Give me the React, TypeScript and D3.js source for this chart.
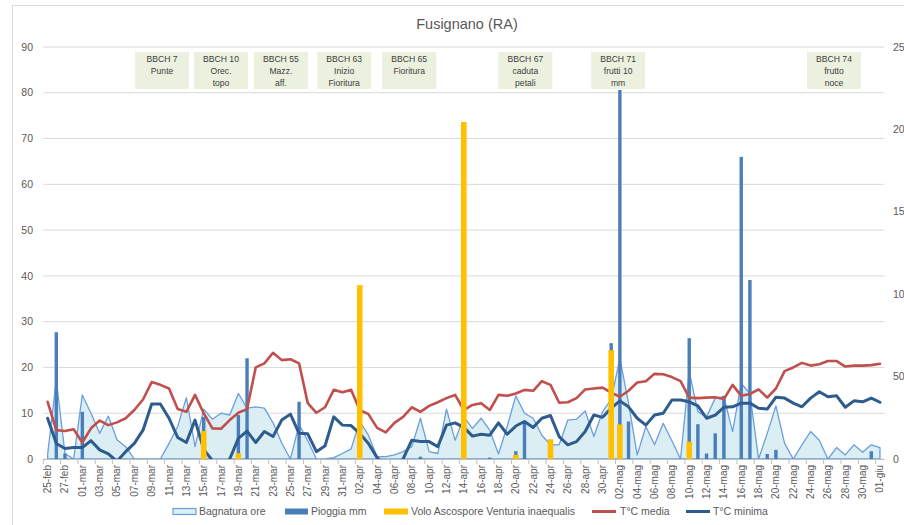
import React from "react";
import * as d3 from "d3";

// Daily categories: 25 Feb – 1 Jun
const days: Date[] = d3.timeDay.range(new Date(2015, 1, 25), new Date(2015, 5, 2));

const itLocale = d3.timeFormatLocale({
  dateTime: "%A %e %B %Y, %X",
  date: "%d/%m/%Y",
  time: "%H:%M:%S",
  periods: ["AM", "PM"],
  days: ["domenica", "lunedì", "martedì", "mercoledì", "giovedì", "venerdì", "sabato"],
  shortDays: ["dom", "lun", "mar", "mer", "gio", "ven", "sab"],
  months: ["gennaio", "febbraio", "marzo", "aprile", "maggio", "giugno", "luglio", "agosto", "settembre", "ottobre", "novembre", "dicembre"],
  shortMonths: ["gen", "feb", "mar", "apr", "mag", "giu", "lug", "ago", "set", "ott", "nov", "dic"],
});
const dayLabel = itLocale.format("%d-%b");

// Bagnatura (ore)
const bagnatura = [
  1, 17.3, 1.2, 0, 14.0, 10.0, 5.6, 9.4, 4.2, 2.7,
  0, 0, 0, 0, 3.4, 7.1, 13.4, 2.7, 10.9, 8.7,
  10.0, 9.6, 14.3, 11.1, 11.4, 11.1, 7.9, 3.5, 0, 7.5,
  4.0, 0, 0, 0.3, 1.2, 2.2, 8.2, 5.2, 0.5, 0.5,
  0.9, 1.6, 2.7, 8.9, 1.6, 1.2, 10.9, 4.1, 9.2, 6.7,
  8.9, 6.3, 1.1, 7.1, 13.8, 10.0, 8.9, 5.2, 3.1, 3.1,
  8.5, 8.7, 10.5, 4.9, 10.3, 13.0, 22.0, 12.2, 0.9, 7.1,
  3.1, 7.8, 4.0, 0, 19.1, 10.3, 9.2, 13.3, 13.6, 6.0,
  16.5, 14.3, 0, 5.6, 11.6, 3.4, 0, 3.1, 6.0, 4.1,
  0, 2.5, 0.9, 3.1, 1.5, 3.1, 2.5,
];

// Pioggia (mm)
const pioggia = [
  0, 27.7, 1.2, 0, 10.3, 0, 0, 0, 0, 0,
  0, 0, 0, 0, 0, 0, 0, 0, 9.2, 0,
  0, 0, 9.6, 22.0, 0, 0, 0, 0, 0, 12.5,
  0, 0, 0, 0, 0, 0, 0, 0, 0, 0,
  0, 0, 0, 0.5, 0, 0, 0, 0, 0, 0,
  0, 0.3, 0, 0, 1.7, 8.2, 0, 0, 0, 0,
  0, 0, 0, 0, 0, 25.3, 80.6, 8.2, 0, 0,
  0, 0, 0, 0, 26.4, 7.6, 1.2, 5.6, 13.8, 0,
  66.0, 39.1, 0, 1.1, 2.0, 0, 0, 0, 0, 0,
  0, 0, 0, 0, 0, 1.7, 0,
];

// Volo ascospore Venturia inaequalis (asse secondario)
const volo = [
  0, 0, 0, 0, 0, 0, 0, 0, 0, 0,
  0, 0, 0, 0, 0, 0, 0, 0, 17, 0,
  0, 0, 3.5, 0, 0, 0, 0, 0, 0, 0,
  0, 0, 0, 0, 0, 0, 105.5, 0, 0, 0,
  0, 0, 0, 0, 0, 0, 0, 0, 204.5, 0,
  0, 0, 0, 0, 2.5, 0, 0, 0, 12, 0,
  0, 0, 0, 0, 0, 66, 21, 0, 0, 0,
  0, 0, 0, 0, 10.5, 0, 0, 0, 0, 0,
  0, 0, 0, 0, 0, 0, 0, 0, 0, 0,
  0, 0, 0, 0, 0, 0, 0,
];

// T°C media
const tMedia = [
  12.5, 6.3, 6.1, 6.5, 3.6, 6.7, 8.4, 7.4, 8.0, 8.9,
  10.7, 13.0, 16.8, 16.2, 15.4, 10.9, 10.3, 14.0, 10.0, 6.7,
  6.6, 8.5, 10.1, 10.9, 20.0, 20.9, 23.2, 21.6, 21.8, 20.9,
  12.2, 10.1, 11.3, 15.1, 14.6, 15.1, 10.7, 9.8, 6.8, 5.8,
  7.9, 9.2, 11.3, 10.3, 11.6, 12.4, 13.3, 14.0, 10.7, 11.8,
  12.2, 10.7, 14.0, 13.8, 14.3, 15.1, 14.9, 17.0, 16.2, 12.3,
  12.4, 13.3, 15.2, 15.4, 15.6, 14.5, 13.6, 14.9, 16.7, 17.0,
  18.6, 18.5, 17.9, 17.0, 13.4, 13.3, 13.4, 13.5, 13.1, 16.2,
  13.8, 14.2, 15.2, 13.4, 15.4, 19.2, 20.0, 21.0, 20.4, 20.7,
  21.4, 21.4, 20.2, 20.4, 20.4, 20.5, 20.8,
];

// T°C minima
const tMinima = [
  8.9, 3.4, 2.3, 2.5, 2.5, 4.0, 2.0, 1.1, -0.5, 1.6,
  3.4, 6.3, 12.0, 12.0, 8.9, 4.7, 3.6, 8.5, 2.1, -0.3,
  -2.0, 0, 4.5, 6.1, 3.6, 6.0, 4.9, 8.5, 9.8, 5.6,
  5.5, 1.6, 2.9, 9.2, 7.4, 7.3, 5.6, 3.4, 0.3, -1.5,
  -1.8, 0, 4.1, 3.8, 3.8, 2.7, 7.4, 7.9, 6.9, 5.0,
  5.4, 5.2, 7.9, 5.4, 7.2, 8.2, 6.9, 8.9, 9.5, 4.9,
  3.1, 3.8, 6.0, 9.6, 9.1, 11.1, 12.7, 11.4, 8.9, 7.4,
  9.6, 10.0, 12.9, 12.9, 12.5, 11.6, 8.9, 9.6, 11.3, 11.4,
  12.2, 12.2, 11.1, 10.9, 13.5, 13.3, 12.2, 11.4, 13.3, 14.7,
  13.6, 13.8, 11.3, 12.7, 12.5, 13.3, 12.4,
];

// Phenological stages: label lines and the day they refer to (fractional index)
const fasiLabels = [
  ["BBCH 7", "Punte"],
  ["BBCH 10", "Orec.", "topo"],
  ["BBCH 55", "Mazz.", "aff."],
  ["BBCH 63", "Inizio", "Fioritura"],
  ["BBCH 65", "Fioritura"],
  ["BBCH 67", "caduta", "petali"],
  ["BBCH 71", "frutti 10", "mm"],
  ["BBCH 74", "frutto", "noce"],
];
const fasiDay = [13.2, 20.0, 26.9, 34.2, 41.7, 55.1, 65.8, 90.7];

const leftTicks = [0, 10, 20, 30, 40, 50, 60, 70, 80, 90];
const rightTicks = [0, 50, 100, 150, 200, 250];

const seriesNames = [
  "Bagnatura ore",
  "Pioggia mm",
  "Volo Ascospore Venturia inaequalis",
  "T°C media",
  "T°C minima",
];

const W = 904;
const H = 525;
const FONT = "'Liberation Sans', Arial, sans-serif";
const TXT = "#595959";
const GRID = "#D9D9D9";

const C = {
  areaFill: "#DAEEF3",
  areaLine: "#6A9FDB",
  rain: "#4A7EBB",
  volo: "#FFC000",
  media: "#C0504D",
  minima: "#2F5C8E",
};

export default function App() {
  const plot = { left: 43.3, right: 884.3, top: 47, bottom: 459 };
  const idx = d3.range(days.length);

  const x = d3.scaleBand<number>().domain(idx).range([plot.left, plot.right]);
  const bw = x.bandwidth();
  const cx = (i: number) => (x(i) as number) + bw / 2;
  const cxf = (f: number) => plot.left + (f + 0.5) * bw;

  const yL = d3.scaleLinear().domain([0, 90]).range([plot.bottom, plot.top]);
  const yR = d3.scaleLinear().domain([0, 250]).range([plot.bottom, plot.top]);

  const area = d3
    .area<number>()
    .x((i) => cx(i))
    .y0(yL(0))
    .y1((i) => yL(bagnatura[i]));

  const lineOf = (vals: number[]) =>
    d3
      .line<number>()
      .x((i) => cx(i))
      .y((i) => yL(vals[i]))(idx) as string;

  const rainW = 3.4;
  const voloW = 5.6;

  const tickPos = d3.range(0, days.length + 1, 2).map((k) => plot.left + k * bw);

  const legendY = 511.5;

  return (
    <div style={{ position: "absolute", left: 0, top: 0 }}>
      <svg width={W} height={H} style={{ display: "block", fontFamily: FONT }}>
        <defs>
          <clipPath id="plotClip">
            <rect x={plot.left} y={plot.top - 2} width={plot.right - plot.left} height={plot.bottom - plot.top + 2} />
          </clipPath>
        </defs>
        <rect x={0} y={0} width={W} height={H} fill="#fff" />
        <rect x={12.5} y={5.5} width={W} height={H} fill="#fff" stroke={GRID} />

        <text x={467} y={29} textAnchor="middle" fontSize={14.5} fill={TXT}>
          Fusignano (RA)
        </text>

        {/* gridlines */}
        {leftTicks.map((t) => (
          <line key={t} x1={plot.left} x2={plot.right} y1={yL(t)} y2={yL(t)} stroke={GRID} strokeWidth={1} />
        ))}

        {/* left axis labels */}
        {leftTicks.map((t) => (
          <text key={"l" + t} x={33} y={yL(t)} dy="0.35em" textAnchor="end" fontSize={10.5} fill={TXT}>
            {t}
          </text>
        ))}
        {/* right axis labels */}
        {rightTicks.map((t) => (
          <text key={"r" + t} x={893} y={yR(t)} dy="0.35em" textAnchor="start" fontSize={10.5} fill={TXT}>
            {t}
          </text>
        ))}

        <g clipPath="url(#plotClip)">
          <path d={area(idx) as string} fill={C.areaFill} stroke={C.areaLine} strokeWidth={1.3} strokeLinejoin="round" />
          {idx
            .filter((i) => pioggia[i] > 0)
            .map((i) => (
              <rect
                key={"p" + i}
                x={cx(i) - rainW / 2}
                y={yL(pioggia[i])}
                width={rainW}
                height={yL(0) - yL(pioggia[i])}
                fill={C.rain}
              />
            ))}
          <path d={lineOf(tMedia)} fill="none" stroke={C.media} strokeWidth={2.6} strokeLinejoin="round" strokeLinecap="round" />
          <path d={lineOf(tMinima)} fill="none" stroke={C.minima} strokeWidth={3} strokeLinejoin="round" strokeLinecap="round" />
          {idx
            .filter((i) => volo[i] > 0)
            .map((i) => (
              <rect
                key={"v" + i}
                x={cx(i) - voloW / 2}
                y={yR(volo[i])}
                width={voloW}
                height={yR(0) - yR(volo[i])}
                fill={C.volo}
              />
            ))}
        </g>

        {/* category axis */}
        <line x1={plot.left} x2={plot.right} y1={plot.bottom + 0.5} y2={plot.bottom + 0.5} stroke="#BFBFBF" />
        {tickPos.map((p, k) => (
          <line key={"t" + k} x1={p} x2={p} y1={plot.bottom} y2={plot.bottom + 5} stroke="#BFBFBF" />
        ))}
        {idx
          .filter((i) => i % 2 === 0)
          .map((i) => (
            <text
              key={"d" + i}
              transform={`translate(${cx(i)},${plot.bottom + 6}) rotate(-90)`}
              textAnchor="end"
              dy="0.35em"
              fontSize={10}
              fill={TXT}
            >
              {dayLabel(days[i])}
            </text>
          ))}

        {/* phenological stage boxes */}
        {fasiLabels.map((lines, k) => {
          const bx = cxf(fasiDay[k]);
          const w = 54;
          return (
            <g key={"f" + k}>
              <rect x={bx - w / 2} y={52} width={w} height={37} fill="#EBF1DE" />
              {lines.map((s, j) => (
                <text key={j} x={bx} y={62 + j * 12} textAnchor="middle" fontSize={8.6} fill="#404040">
                  {s}
                </text>
              ))}
            </g>
          );
        })}

        {/* legend */}
        <g fontSize={10.5} fill={TXT}>
          <rect x={173} y={legendY - 3} width={23} height={6} fill={C.areaFill} stroke={C.areaLine} strokeWidth={1.2} />
          <text x={199} y={legendY} dy="0.35em">{seriesNames[0]}</text>
          <rect x={285} y={legendY - 3} width={23} height={6} fill={C.rain} />
          <text x={311} y={legendY} dy="0.35em">{seriesNames[1]}</text>
          <rect x={384} y={legendY - 3} width={24} height={6} fill={C.volo} />
          <text x={411} y={legendY} dy="0.35em">{seriesNames[2]}</text>
          <line x1={592} x2={616} y1={legendY} y2={legendY} stroke={C.media} strokeWidth={3} />
          <text x={620} y={legendY} dy="0.35em">{seriesNames[3]}</text>
          <line x1={686} x2={710} y1={legendY} y2={legendY} stroke={C.minima} strokeWidth={3} />
          <text x={713} y={legendY} dy="0.35em">{seriesNames[4]}</text>
        </g>
      </svg>
    </div>
  );
}
